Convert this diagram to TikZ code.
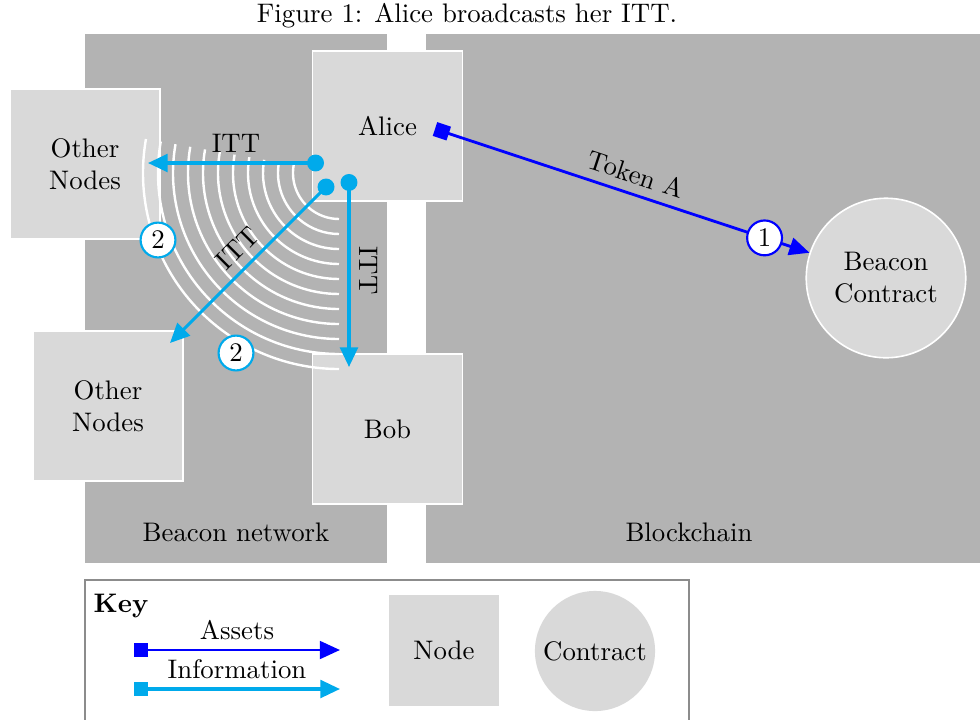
\documentclass[tikz,border=0pt]{standalone}
\usetikzlibrary{arrows.meta,calc}
\definecolor{panelgray}{RGB}{179,179,179}
\definecolor{nodegray}{RGB}{217,217,217}
\definecolor{infoblue}{RGB}{0,170,235}
\definecolor{keyframe}{RGB}{140,140,140}
\begin{document}
\begin{tikzpicture}[x=0.373pt,y=-0.373pt,
  nodebox/.style={rectangle, fill=nodegray, draw=white, line width=0.6pt, minimum width=56pt, minimum height=56pt, inner sep=0pt, align=center},
  contract/.style={circle, fill=nodegray, draw=white, line width=0.6pt, minimum size=59.5pt, inner sep=0pt, align=center},
  info/.style={draw=infoblue, line width=1.15pt, {Circle[length=6.3pt]}-{Triangle[length=7.3pt,width=6.6pt]}},
  infokey/.style={draw=infoblue, line width=1.15pt, {Square[length=5.2pt]}-{Triangle[length=7.3pt,width=6.6pt]}},
  asset/.style={draw=blue, line width=1.05pt, {Square[length=5.4pt]}-{Triangle[length=7.5pt,width=6.6pt]}},
  numinfo/.style={circle, draw=infoblue, fill=white, line width=0.8pt, minimum size=13pt, inner sep=0pt},
  numasset/.style={numinfo, draw=blue},
  wave/.style={draw=white, line width=0.9pt},
]
\useasboundingbox (0,0) rectangle (980,719);
\clip (0,0) rectangle (980,719);
% panels
\fill[panelgray] (85,34) rectangle (387,563);
\fill[panelgray] (426,34) rectangle (980,563);
\node (lbn) at (236,532) {Beacon network};
\node (lbc) at (689,532) {Blockchain};
\node (cap) at (467,16) {Figure 1: Alice broadcasts her ITT.};
% nodes
\node[nodebox] (alice) at (387.5,126) {Alice};
\node[nodebox] (bob) at (387.5,429) {Bob};
\node[nodebox] (other1) at (85,164) {Other\\Nodes};
\node[nodebox] (other2) at (108,406) {Other\\Nodes};
\node[contract] (bc) at (886,278) {Beacon\\Contract};
% broadcast waves
\coordinate (wc) at (339,173);
\foreach \k in {0,...,10} {
  \pgfmathsetmacro\rr{(46+15*\k)*0.373}
  \draw[wave] ($(wc)+(170:\rr pt)$) arc[start angle=170,end angle=270,radius=\rr pt];
}
% information arrows
\coordinate (d1) at (324,163); \coordinate (t1) at (148,163);
\coordinate (d2) at (332,181); \coordinate (t2) at (170,343);
\coordinate (d3) at (349,174); \coordinate (t3) at (349,367);
\draw[info] (d1) -- node[above]{ITT} (t1);
\draw[info] (d2) -- node[sloped, above]{ITT} (t2);
\draw[info] (d3) -- node[rotate=-90, anchor=south]{ITT} (t3);
\node[numinfo] (n2a) at (158,240) {2};
\node[numinfo] (n2b) at (236,353) {2};
% asset arrow
\coordinate (ta) at (435,129);
\draw[asset] (ta) -- node[pos=0.52, sloped, above]{Token A} node[pos=0.88, numasset]{1} (bc);
% key
\draw[keyframe, line width=0.6pt] (85,580) rectangle (689,740);
\node[font=\bfseries] (key) at (121,606) {Key};
\coordinate (ka1) at (134,650); \coordinate (ka2) at (340,650);
\draw[asset] (ka1) -- node[above]{Assets} (ka2);
\coordinate (ki1) at (134,689); \coordinate (ki2) at (340,689);
\draw[infokey] (ki1) -- node[above]{Information} (ki2);
\node[nodebox, draw=none, minimum width=41.4pt, minimum height=41.4pt] (kn) at (444,650) {Node};
\node[contract, draw=none, minimum size=44.8pt] (kc) at (595,651) {Contract};
\end{tikzpicture}
\end{document}
